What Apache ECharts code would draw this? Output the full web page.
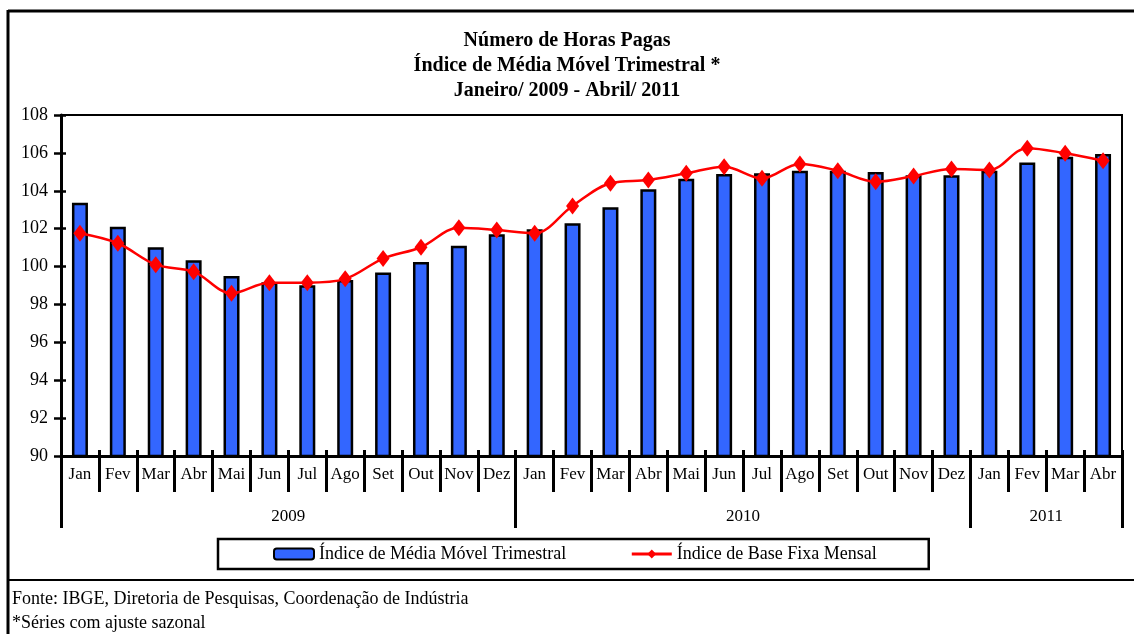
<!DOCTYPE html>
<html>
<head>
<meta charset="utf-8">
<script src="https://cdn.jsdelivr.net/npm/echarts@6/dist/echarts.min.js"></script>
<style>html,body{margin:0;padding:0;background:#fff;}#c{width:1134px;height:634px;}</style>
</head>
<body>
<div id="c"></div>
<script>
// ---- data ----
var months = ['Jan','Fev','Mar','Abr','Mai','Jun','Jul','Ago','Set','Out','Nov','Dez',
              'Jan','Fev','Mar','Abr','Mai','Jun','Jul','Ago','Set','Out','Nov','Dez',
              'Jan','Fev','Mar','Abr'];
var years = ['2009','2010','2011'];
var monthsPerYear = [12, 12, 4];
var mediaMovel = [103.37,102.10,101.02,100.33,99.50,99.17,99.01,99.29,99.68,100.24,101.10,101.70,
                  101.97,102.28,103.13,104.08,104.64,104.89,104.92,105.06,105.06,104.99,104.82,104.82,
                  105.06,105.49,105.80,105.94];
var baseFixa   = [101.76,101.23,100.10,99.73,98.59,99.15,99.15,99.35,100.42,101.02,102.05,101.93,
                  101.76,103.20,104.40,104.57,104.92,105.27,104.66,105.42,105.06,104.48,104.78,105.15,
                  105.10,106.25,105.98,105.59];
var yTicks = [90,92,94,96,98,100,102,104,106,108];
var seriesNames = ['Índice de Média Móvel Trimestral','Índice de Base Fixa Mensal'];
var titleLines = ['Número de Horas Pagas','Índice de Média Móvel Trimestral *','Janeiro/ 2009 - Abril/ 2011'];
var notes = ['Fonte: IBGE, Diretoria de Pesquisas, Coordenação de Indústria','*Séries com ajuste sazonal'];

// derived helpers
var boundaries = [];
var yearCenters = {};
(function(){
  var acc = 0;
  for (var i = 0; i < years.length; i++) {
    boundaries.push(acc);
    yearCenters[acc + monthsPerYear[i] / 2] = years[i];
    acc += monthsPerYear[i];
  }
})();

var FONT = 'Liberation Serif';
var chart = echarts.init(document.getElementById('c'), null, {renderer: 'canvas'});
chart.setOption({
  animation: false,
  backgroundColor: '#fff',
  title: {
    text: titleLines.join('\n'),
    left: 'center',
    top: 23,
    textStyle: {fontFamily: FONT, fontWeight: 'bold', fontSize: 20, lineHeight: 25, color: '#000'}
  },
  legend: {
    left: 218, top: 539,
    padding: [6, 52, 6, 55],
    itemGap: 64,
    itemWidth: 40, itemHeight: 11,
    borderColor: '#000', borderWidth: 2.5,
    lineStyle: {width: 3},
    textStyle: {fontFamily: FONT, fontSize: 18, color: '#000'},
    data: seriesNames
  },
  grid: {left: 61, right: 12, top: 115, bottom: 178, show: true, borderColor: '#000', borderWidth: 2, containLabel: false},
  xAxis: [
    {
      type: 'category', data: months, position: 'bottom',
      axisLine: {show: true, lineStyle: {color: '#000', width: 3}},
      axisTick: {show: true, interval: 0, length: 36, lineStyle: {color: '#000', width: 3}},
      axisLabel: {interval: 0, margin: 10, fontFamily: FONT, fontSize: 17, color: '#000'},
      splitLine: {show: false}
    },
    {
      type: 'category', data: months, position: 'bottom', offset: 0,
      axisLine: {show: false},
      axisTick: {show: true, length: 72, lineStyle: {color: '#000', width: 3},
        interval: function (i) { return boundaries.indexOf(i) >= 0; }},
      axisLabel: {show: false}, splitLine: {show: false}
    },
    {
      type: 'category', data: months, position: 'bottom', offset: 0,
      axisLine: {show: false},
      axisTick: {show: true, inside: true, interval: 0, length: 6, lineStyle: {color: '#000', width: 3}},
      axisLabel: {show: false}, splitLine: {show: false}
    },
    {
      type: 'value', min: 0, max: months.length, interval: 1, position: 'bottom', offset: 0,
      axisLine: {show: false}, axisTick: {show: false}, splitLine: {show: false},
      axisLabel: {margin: 52, fontFamily: FONT, fontSize: 17, color: '#000',
        formatter: function (v) { return yearCenters[v] || ''; }}
    }
  ],
  yAxis: [
    {
      type: 'value', min: yTicks[0], max: yTicks[yTicks.length - 1], interval: yTicks[1] - yTicks[0],
      axisLine: {show: true, lineStyle: {color: '#000', width: 3}},
      axisTick: {show: true, length: 7, lineStyle: {color: '#000', width: 2.5}},
      axisLabel: {margin: 13, fontFamily: FONT, fontSize: 18, color: '#000'},
      splitLine: {show: false}
    },
    {
      type: 'value', min: yTicks[0], max: yTicks[yTicks.length - 1], interval: yTicks[1] - yTicks[0],
      position: 'left', offset: 0,
      axisLine: {show: false},
      axisTick: {show: true, inside: true, length: 5, lineStyle: {color: '#000', width: 2.5}},
      axisLabel: {show: false}, splitLine: {show: false}
    }
  ],
  series: [
    {
      name: seriesNames[0], type: 'bar', data: mediaMovel, barWidth: 16,
      xAxisIndex: 0, yAxisIndex: 0,
      itemStyle: {color: '#3366FF', borderColor: '#000', borderWidth: 2.5},
      z: 2
    },
    {
      name: seriesNames[1], type: 'line', data: baseFixa, smooth: 0.35,
      xAxisIndex: 0, yAxisIndex: 0,
      symbol: 'diamond', symbolSize: [13, 17],
      lineStyle: {color: '#FF0000', width: 2.5},
      itemStyle: {color: '#FF0000'},
      z: 3
    }
  ],
  graphic: [
    {type: 'line', shape: {x1: 8, y1: 11, x2: 1134, y2: 11}, style: {stroke: '#000', lineWidth: 3}, silent: true},
    {type: 'line', shape: {x1: 8, y1: 10, x2: 8, y2: 634}, style: {stroke: '#000', lineWidth: 3}, silent: true},
    {type: 'line', shape: {x1: 8, y1: 580, x2: 1134, y2: 580}, style: {stroke: '#000', lineWidth: 2}, silent: true},
    {type: 'text', left: 12, top: 590, style: {text: notes[0], font: '18px "Liberation Serif"', fill: '#000'}},
    {type: 'text', left: 12, top: 614, style: {text: notes[1], font: '18px "Liberation Serif"', fill: '#000'}}
  ]
});
</script>
</body>
</html>
